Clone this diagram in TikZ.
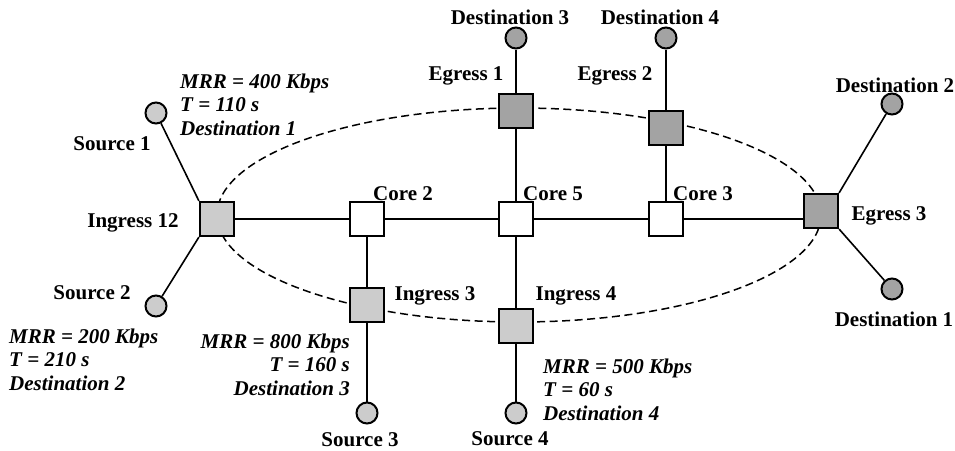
\documentclass[tikz,border=0pt]{standalone}
\usepackage{fontspec}
\setmainfont{Liberation Serif}
\definecolor{lightg}{HTML}{CCCCCC}
\definecolor{darkg}{HTML}{A3A3A3}
\begin{document}
\begin{tikzpicture}[x=1pt,y=-1pt,
  sq/.style={draw,line width=2.2pt,minimum size=34pt,inner sep=0pt},
  core/.style={sq,fill=white},
  ing/.style={sq,fill=lightg},
  egr/.style={sq,fill=darkg},
  src/.style={circle,draw,line width=2pt,minimum size=21pt,inner sep=0pt,fill=lightg},
  dst/.style={src,fill=darkg},
  lbl/.style={font=\fontsize{21}{23}\selectfont\bfseries,anchor=base,inner sep=0pt},
  info/.style={font=\fontsize{21}{23.5}\selectfont\bfseries\itshape,inner sep=0pt},
  link/.style={line width=1.6pt},
  ring/.style={line width=1.5pt,dash pattern=on 8pt off 4.5pt}]
\useasboundingbox (0,0) rectangle (955,450);
\draw[ring] (519,215) ellipse [x radius=302pt, y radius=107pt];
% nodes
\node[ing] (i12) at (217,219) {};
\node[core] (c2) at (367,219) {};
\node[core] (c5) at (516,219) {};
\node[core] (c3) at (666,219) {};
\node[egr] (e3) at (821,211) {};
\node[egr] (e1) at (516,111) {};
\node[egr] (e2) at (666,128) {};
\node[ing] (i3) at (367,305) {};
\node[ing] (i4) at (516,326) {};
\node[src] (s1) at (156,113) {};
\node[src] (s2) at (156,306) {};
\node[src] (s3) at (367,413) {};
\node[src] (s4) at (516,413) {};
\node[dst] (d3) at (516,38) {};
\node[dst] (d4) at (666,38) {};
\node[dst] (d2) at (892,104) {};
\node[dst] (d1) at (892,289) {};
% links
\draw[link] (s1) -- (i12.north west);
\draw[link] (s2) -- (i12.south west);
\draw[link] (i12) -- (c2);
\draw[link] (c2) -- (c5);
\draw[link] (c5) -- (c3);
\draw[link] (c3) -- (c3 -| e3.west);
\draw[link] (d2) -- (e3.north east);
\draw[link] (d1) -- (e3.south east);
\draw[link] (c2) -- (i3);
\draw[link] (i3) -- (s3);
\draw[link] (c5) -- (e1);
\draw[link] (e1) -- (d3);
\draw[link] (c5) -- (i4);
\draw[link] (i4) -- (s4);
\draw[link] (c3) -- (e2);
\draw[link] (e2) -- (d4);
% labels
\node[lbl] (ls1) at (112,150) {Source 1};
\node[lbl] (li12) at (133,227) {Ingress 12};
\node[lbl] (ls2) at (92,299) {Source 2};
\node[lbl] (ld3) at (510,24) {Destination 3};
\node[lbl] (le1) at (466,80) {Egress 1};
\node[lbl] (ld4) at (660,24) {Destination 4};
\node[lbl] (le2) at (615,80) {Egress 2};
\node[lbl] (lc2) at (403,200) {Core 2};
\node[lbl] (lc5) at (553,200) {Core 5};
\node[lbl] (lc3) at (703,200) {Core 3};
\node[lbl] (le3) at (889,220) {Egress 3};
\node[lbl] (ld2) at (895,92) {Destination 2};
\node[lbl] (ld1) at (894,326) {Destination 1};
\node[lbl] (li3) at (435,300) {Ingress 3};
\node[lbl] (li4) at (576,300) {Ingress 4};
\node[lbl] (ls3) at (360,446) {Source 3};
\node[lbl] (ls4) at (510,445) {Source 4};
% flow info
\node[info,align=left,anchor=base west] (f1) at (180,135) {MRR = 400 Kbps\\T = 110 s\\Destination 1};
\node[info,align=left,anchor=base west] (f2) at (9,390) {MRR = 200 Kbps\\T = 210 s\\Destination 2};
\node[info,align=right,anchor=base east] (f3) at (350,395) {MRR = 800 Kbps\\T = 160 s\\Destination 3};
\node[info,align=left,anchor=base west] (f4) at (543,420) {MRR = 500 Kbps\\T = 60 s\\Destination 4};
\end{tikzpicture}
\end{document}
